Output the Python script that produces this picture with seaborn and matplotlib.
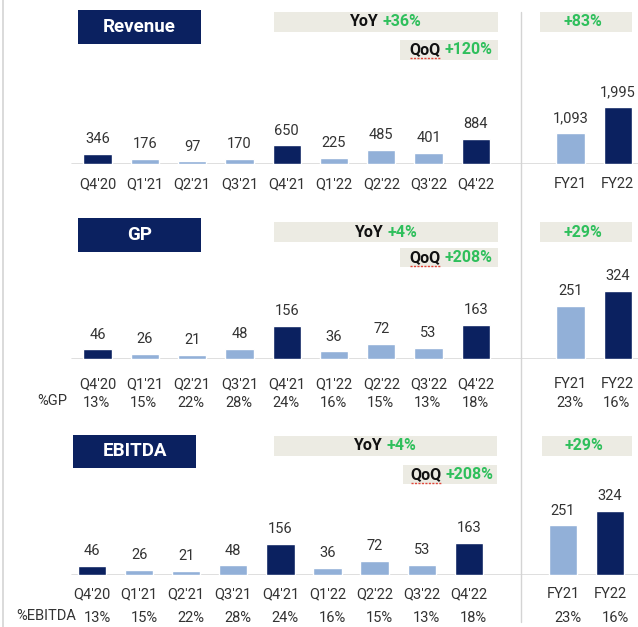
import matplotlib
matplotlib.use("Agg")
import matplotlib.pyplot as plt
import seaborn as sns
import pandas as pd
from matplotlib.patches import Rectangle
from matplotlib.lines import Line2D

# chart values
periods = ["Q4'20", "Q1'21", "Q2'21", "Q3'21", "Q4'21", "Q1'22", "Q2'22", "Q3'22", "Q4'22", "FY21", "FY22"]
positions = [0, 1, 2, 3, 4, 5, 6, 7, 8, 10, 11]
highlight = [True, False, False, False, True, False, False, False, True, False, True]

revenue = [346, 176, 97, 170, 650, 225, 485, 401, 884, 1093, 1995]
gp = [46, 26, 21, 48, 156, 36, 72, 53, 163, 251, 324]
gp_margin = [13, 15, 22, 28, 24, 16, 15, 13, 18, 23, 16]
ebitda = [46, 26, 21, 48, 156, 36, 72, 53, 163, 251, 324]
ebitda_margin = [13, 15, 22, 28, 24, 16, 15, 13, 18, 23, 16]

titles = ["Revenue", "GP", "EBITDA"]
yoy = ["+36%", "+4%", "+4%"]
qoq = ["+120%", "+208%", "+208%"]
fy_growth = ["+83%", "+29%", "+29%"]

NAVY = "#0b2160"
LIGHT = "#92b0d8"
BEIGE = "#ecebe3"
GREEN = "#2fbf5c"
TXT = "#333333"
GRID = "#d9d9d9"

W, H = 638, 627

sns.set_theme(style="white")
plt.rcParams["font.family"] = ["Roboto", "DejaVu Sans"]

fig = plt.figure(figsize=(W / 100, H / 100), dpi=100)
renderer = fig.canvas.get_renderer()


def fx(x):
    return x / W


def fy(y):
    return 1 - y / H


def box(x0, y0, x1, y1, color):
    fig.add_artist(Rectangle((fx(x0), fy(y1)), (x1 - x0) / W, (y1 - y0) / H,
                             transform=fig.transFigure, facecolor=color,
                             edgecolor="none", zorder=1))


def two_tone(cx, cy, left, right, size=11.5, squiggle=False):
    t1 = fig.text(0, fy(cy), left, ha="left", va="center", fontsize=size,
                  fontweight="bold", color="#111111", zorder=3)
    t2 = fig.text(0, fy(cy), right, ha="left", va="center", fontsize=size,
                  fontweight="bold", color=GREEN, zorder=3)
    w1 = t1.get_window_extent(renderer).width if left else 0
    w2 = t2.get_window_extent(renderer).width
    gap = 4 if left else 0
    start = cx - (w1 + gap + w2) / 2
    t1.set_x(fx(start))
    t2.set_x(fx(start + w1 + gap))
    if squiggle:
        # spell-check underline seen in the source slide
        fig.add_artist(Line2D([fx(start + 1), fx(start + w1)], [fy(cy + 8), fy(cy + 8)],
                              transform=fig.transFigure, color="#e0453a", lw=1,
                              ls=(0, (1.5, 1)), zorder=4))


# layout per panel, in pixels from the top-left corner
panels = [
    dict(values=revenue, margin=None, margin_label=None, baseline=164, scale=35.0,
         x0=97.5, step=47.3, tick_pad=9.3, title_box=(78, 10, 201, 44),
         yoy_box=(274, 12, 498, 32), qoq_box=(400, 40, 498, 60), fy_box=(540, 12, 632, 32)),
    dict(values=gp, margin=gp_margin, margin_label="%GP", baseline=359, scale=4.75,
         x0=97.5, step=47.3, tick_pad=13.1, title_box=(78, 218, 201, 252),
         yoy_box=(274, 222, 498, 242), qoq_box=(400, 248, 498, 267), fy_box=(540, 222, 632, 242),
         margin_y=402, margin_x=67, margin_shift=-1),
    dict(values=ebitda, margin=ebitda_margin, margin_label="%EBITDA", baseline=575, scale=5.05,
         x0=92, step=47.1, tick_pad=8.8, title_box=(73, 435, 196, 468),
         yoy_box=(274, 436, 497, 456), qoq_box=(403, 465, 497, 484), fy_box=(542, 436, 632, 456),
         margin_y=617, margin_x=76, margin_shift=5),
]

AX_H = 150

for i, p in enumerate(panels):
    ax = fig.add_axes([0, fy(p["baseline"]), 1, AX_H / H])
    ax.patch.set_alpha(0)
    df = pd.DataFrame({
        "pos": positions,
        "value": p["values"],
        "kind": ["dark" if h else "light" for h in highlight],
    })
    sns.barplot(data=df, x="pos", y="value", hue="kind",
                palette={"dark": NAVY, "light": LIGHT}, native_scale=True,
                width=0.6, dodge=False, saturation=1, legend=False, ax=ax, zorder=2)
    ax.set_xlim(-p["x0"] / p["step"], (W - p["x0"]) / p["step"])
    ax.set_ylim(0, AX_H * p["scale"])
    ax.axhline(0, xmin=72 / W, xmax=1, color=GRID, lw=1.2, zorder=1)

    ax.set_xticks(positions)
    ax.set_xticklabels(periods)
    ax.tick_params(axis="x", length=0, pad=p["tick_pad"], labelsize=10.5, labelcolor=TXT)
    ax.set_yticks([])
    ax.set_xlabel("")
    ax.set_ylabel("")
    sns.despine(ax=ax, left=True, bottom=True)

    for pos, v in zip(positions, p["values"]):
        ax.annotate(f"{v:,}", (pos, v), xytext=(0, 10.6), textcoords="offset points",
                    ha="center", va="center", fontsize=10.5, color=TXT)

    if p["margin"] is not None:
        off = (p["margin_y"] - p["baseline"] + 1) * 0.72
        shift = p["margin_shift"] * 0.72
        for pos, m in zip(positions, p["margin"]):
            ax.annotate(f"{m}%", (pos, 0), xytext=(shift, -off), textcoords="offset points",
                        ha="center", va="center", fontsize=10.5, color=TXT)
        fig.text(fx(p["margin_x"]), fy(p["margin_y"] - 1), p["margin_label"],
                 ha="right", va="center", fontsize=10.5, color=TXT)

    # title box
    x0, y0, x1, y1 = p["title_box"]
    box(x0, y0, x1, y1, NAVY)
    fig.text(fx((x0 + x1) / 2), fy((y0 + y1) / 2), titles[i], ha="center", va="center",
             fontsize=13.5, fontweight="bold", color="white", zorder=3)

    # growth boxes
    x0, y0, x1, y1 = p["yoy_box"]
    box(x0, y0, x1, y1, BEIGE)
    two_tone((x0 + x1) / 2, (y0 + y1) / 2, "YoY", yoy[i])

    x0, y0, x1, y1 = p["qoq_box"]
    box(x0, y0, x1, y1, BEIGE)
    two_tone((x0 + x1) / 2 + 2, (y0 + y1) / 2, "QoQ", qoq[i], squiggle=True)

    x0, y0, x1, y1 = p["fy_box"]
    box(x0, y0, x1, y1, BEIGE)
    two_tone((x0 + x1) / 2 - 3, (y0 + y1) / 2, "", fy_growth[i])

# frame lines
fig.add_artist(Line2D([fx(3), fx(3)], [fy(0), fy(H)], transform=fig.transFigure,
                      color="#d4d4d4", lw=1.2))
fig.add_artist(Line2D([fx(521), fx(521)], [fy(12), fy(622)], transform=fig.transFigure,
                      color="#d4d4d4", lw=1))

fig.savefig("out.png", dpi=100)
